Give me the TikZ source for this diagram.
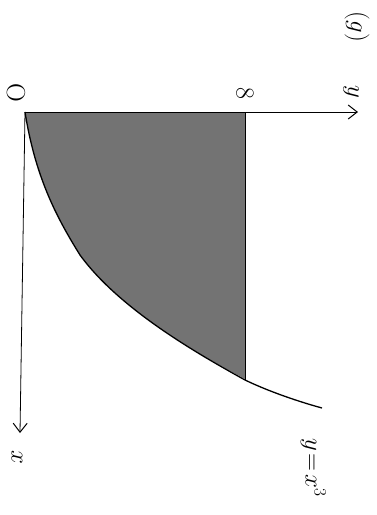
\documentclass[tikz,border=0pt]{standalone}
\usetikzlibrary{arrows.meta}
\begin{document}
\begin{tikzpicture}[x=1pt,y=-1pt,
  axis/.style={line width=1pt,-{Straight Barb[length=9pt,width=14pt,line width=1pt]}},
  lbl/.style={rotate=-90,font=\fontsize{26}{28}\selectfont,inner sep=0pt},
  curvestyle/.style={line width=1.3pt}]
\useasboundingbox (0,0) rectangle (376,515);
% shaded region
\fill[black!55] (25,112) -- (245,112) -- (245,379)
  .. controls (200,355) and (120,310) .. (80,255)
  .. controls (55,215) and (35,175) .. (25,112) -- cycle;
% points
\coordinate (O) at (25,112);
\coordinate (Yend) at (358,112);
\coordinate (Xend) at (20,433);
\coordinate (E8) at (245,112);
\coordinate (E8b) at (245,380);
\coordinate (Cend) at (322,408);
% axes
\draw[axis] (O) -- (Yend);
\draw[axis,line width=0.8pt] (O) -- (Xend);
\draw[line width=1pt] (E8) -- (E8b);
% curve y=x^3
\draw[curvestyle] (O)
  .. controls (35,175) and (55,215) .. (80,255)
  .. controls (120,310) and (200,355) .. (E8b)
  .. controls (270,392) and (300,402) .. (Cend);
% labels
\node[lbl] (lO) at (16,93) {O};
\node[lbl] (l8) at (245,93) {8};
\node[lbl] (ly) at (351,92) {$y$};
\node[lbl] (lx) at (17,457) {$x$};
\node[lbl] (lg) at (357,27) {$(g)$};
\node[lbl,anchor=north west] (lc) at (326,438) {$y\!=\!x^{3}$};
\end{tikzpicture}
\end{document}
